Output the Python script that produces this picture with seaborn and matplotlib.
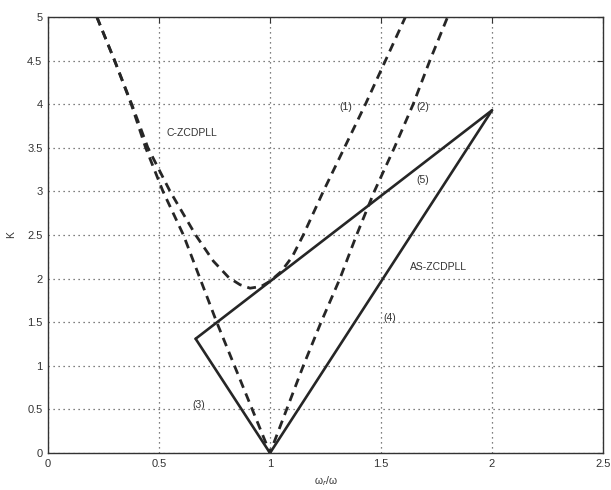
import numpy as np
import pandas as pd
import matplotlib
matplotlib.use("Agg")
import matplotlib.pyplot as plt
import seaborn as sns

# Curve (1): dashed, C-ZCDPLL boundary (U-shaped)
c1_x = [0.22, 0.30, 0.377, 0.45, 0.55, 0.665, 0.745, 0.815, 0.865, 0.91, 0.96, 1.0,
        1.05, 1.10, 1.15, 1.24, 1.335, 1.43, 1.52, 1.61]
c1_y = [5.0, 4.5, 4.0, 3.5, 3.0, 2.5, 2.2, 2.01, 1.93, 1.89, 1.91, 1.97,
        2.08, 2.25, 2.5, 3.0, 3.5, 4.0, 4.5, 5.0]

# Curve (2): dashed, V-shaped
c2_x = [0.22, 0.30, 0.375, 0.44, 0.518, 0.61, 0.685, 0.76, 0.84, 0.92, 1.0,
        1.075, 1.15, 1.23, 1.315, 1.39, 1.47, 1.56, 1.645, 1.72, 1.80]
c2_y = [5.0, 4.5, 4.0, 3.5, 3.0, 2.5, 2.0, 1.5, 1.0, 0.5, 0.0,
        0.5, 1.0, 1.5, 2.0, 2.5, 3.0, 3.5, 4.0, 4.5, 5.0]

# Solid triangle: lines (3), (4), (5) for AS-ZCDPLL
c3_x = [0.665, 1.0]
c3_y = [1.31, 0.0]
c4_x = [1.0, 2.0]
c4_y = [0.0, 3.93]
c5_x = [0.665, 2.0]
c5_y = [1.31, 3.93]

x_ticks = [0, 0.5, 1, 1.5, 2, 2.5]
x_tick_labels = ["0", "0.5", "1", "1.5", "2", "2.5"]
y_ticks = [0, 0.5, 1, 1.5, 2, 2.5, 3, 3.5, 4, 4.5, 5]
y_tick_labels = ["0", "0.5", "1", "1.5", "2", "2.5", "3", "3.5", "4", "4.5", "5"]

labels = ["C-ZCDPLL", "(1)", "(2)", "(5)", "AS-ZCDPLL", "(4)", "(3)"]
label_x = [0.65, 1.34, 1.69, 1.69, 1.76, 1.54, 0.68]
label_y = [3.67, 3.97, 3.97, 3.13, 2.13, 1.55, 0.55]

sns.set_style("white")
plt.rcParams['font.family'] = ['Liberation Sans', 'DejaVu Sans']

fig = plt.figure(figsize=(6.11, 4.90), dpi=100)
ax = fig.add_axes([48/611, 37/490, 555/611, 436/490])

line_col = "#262626"
dashed = dict(color=line_col, linewidth=2.0, dashes=(3.2, 2.2))
solid = dict(color=line_col, linewidth=1.9)

def draw(xs, ys, style):
    df = pd.DataFrame({"x": xs, "y": ys})
    sns.lineplot(data=df, x="x", y="y", ax=ax, sort=False, estimator=None, **style)

draw(c1_x, c1_y, dashed)
draw(c2_x, c2_y, dashed)
draw(c3_x, c3_y, solid)
draw(c4_x, c4_y, solid)
draw(c5_x, c5_y, solid)

for t, lx, ly in zip(labels, label_x, label_y):
    ax.text(lx, ly, t, fontsize=7.5, color="#333333", ha="center", va="center")

ax.set_xlim(0, 2.5)
ax.set_ylim(0, 5)
ax.set_xticks(x_ticks)
ax.set_xticklabels(x_tick_labels)
ax.set_yticks(y_ticks)
ax.set_yticklabels(y_tick_labels)
ax.grid(True, linestyle=(0, (1, 3)), color="#555555", linewidth=0.9)
ax.tick_params(direction="in", top=True, right=True, length=4, width=0.8,
               labelsize=8, colors="#333333", pad=4)
for s in ax.spines.values():
    s.set_color("#333333")
    s.set_linewidth(1.0)
ax.set_xlabel("ω$_r$/ω", fontsize=7.5, color="#333333", labelpad=4)
ax.set_ylabel("K", fontsize=7.5, color="#333333", labelpad=8)

fig.savefig("out.png", dpi=100)
